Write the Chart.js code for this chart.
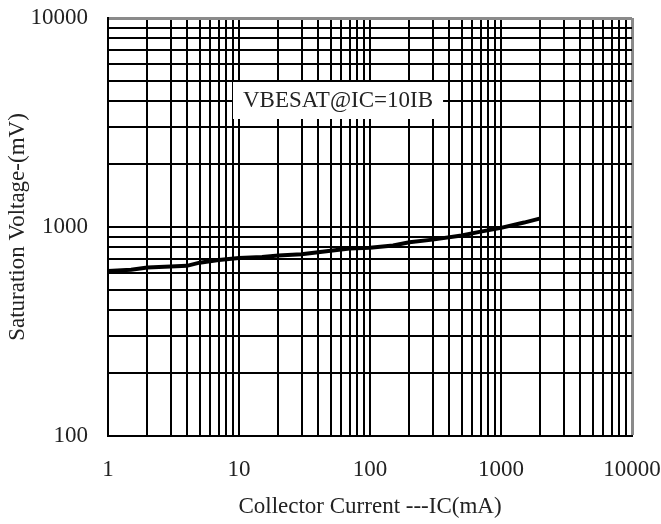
<!DOCTYPE html>
<html>
<head>
<meta charset="utf-8">
<script src="https://cdn.jsdelivr.net/npm/chart.js@4.4.1/dist/chart.umd.min.js"></script>
<style>
  body { margin: 0; background: #fff; }
</style>
</head>
<body>
<canvas id="satChart" width="661" height="524"></canvas>
<script>
// collector current (mA) and VBE(sat) (mV)
const icValues = [1, 1.5, 2, 3, 4, 5, 7, 10, 15, 20, 30, 50, 70, 100, 150, 200, 300, 500, 700, 1000, 1500, 2000];
const vbeValues = [615, 625, 640, 648, 652, 675, 695, 710, 718, 730, 740, 770, 790, 795, 815, 845, 870, 910, 950, 990, 1050, 1100];

const xTickLabels = [1, 10, 100, 1000, 10000];
const yTickLabels = [100, 1000, 10000];
const gridSteps = [1, 2, 3, 4, 5, 6, 7, 8, 9];
const seriesLabel = 'VBESAT@IC=10IB';

const FONT = 'Liberation Serif';

// every 1..9 x decade gets a grid line, only decades get a label
function decadeGrid(labels) {
    const vals = [];
    for (let i = 0; i < labels.length - 1; i++) {
        gridSteps.forEach(s => vals.push(labels[i] * s));
    }
    vals.push(labels[labels.length - 1]);
    return vals;
}

// keep the edge labels from pushing the plot area in
function noEdgePadding(scale) {
    scale.paddingTop = 0;
    scale.paddingBottom = 0;
    scale.paddingLeft = 0;
    scale.paddingRight = 0;
}

const gridColor = (max) => (ctx) => ctx.tick && ctx.tick.value === max ? '#8a8a8a' : '#000';
const gridWidth = (max) => (ctx) => ctx.tick && ctx.tick.value === max ? 3 : 2;

const labelBox = {
    id: 'labelBox',
    afterDatasetsDraw(chart) {
        const { ctx, chartArea } = chart;
        ctx.save();
        ctx.font = '23px "' + FONT + '"';
        const w = ctx.measureText(seriesLabel).width + 20;
        const x = chartArea.left + 125;
        const y = chartArea.top + 64;
        ctx.fillStyle = '#fff';
        ctx.fillRect(x, y, w, 37);
        ctx.fillStyle = '#222';
        ctx.textBaseline = 'middle';
        ctx.fillText(seriesLabel, x + 10, y + 19);
        ctx.restore();
    }
};

const ctx = document.getElementById('satChart').getContext('2d');
new Chart(ctx, {
    type: 'line',
    data: {
        datasets: [{
            label: seriesLabel,
            data: icValues.map((v, i) => ({ x: v, y: vbeValues[i] })),
            borderColor: '#000',
            borderWidth: 4,
            pointRadius: 0,
            tension: 0,
            fill: false
        }]
    },
    options: {
        responsive: false,
        animation: false,
        layout: { padding: { top: 18, right: 29, left: 0, bottom: 0 } },
        plugins: {
            legend: { display: false },
            tooltip: { enabled: false }
        },
        scales: {
            x: {
                type: 'logarithmic',
                min: 1,
                max: 10000,
                afterBuildTicks: (scale) => { scale.ticks = decadeGrid(xTickLabels).map(v => ({ value: v })); },
                afterFit: (scale) => { scale.height = 88; noEdgePadding(scale); },
                grid: { color: gridColor(10000), lineWidth: gridWidth(10000), drawTicks: false },
                border: { color: '#000', width: 2 },
                ticks: {
                    autoSkip: false,
                    maxRotation: 0,
                    padding: 20,
                    color: '#222',
                    font: { family: FONT, size: 23 },
                    callback: (v) => xTickLabels.includes(v) ? String(v) : ''
                },
                title: {
                    display: true,
                    text: 'Collector Current ---IC(mA)',
                    color: '#222',
                    font: { family: FONT, size: 23 },
                    padding: { top: 0, bottom: 3 }
                }
            },
            y: {
                type: 'logarithmic',
                min: 100,
                max: 10000,
                afterBuildTicks: (scale) => { scale.ticks = decadeGrid(yTickLabels).map(v => ({ value: v })); },
                afterFit: (scale) => { scale.width = 108; noEdgePadding(scale); },
                grid: { color: gridColor(10000), lineWidth: gridWidth(10000), drawTicks: false },
                border: { color: '#000', width: 2 },
                ticks: {
                    autoSkip: false,
                    padding: 20,
                    color: '#222',
                    font: { family: FONT, size: 23 },
                    callback: (v) => yTickLabels.includes(v) ? String(v) : ''
                },
                title: {
                    display: true,
                    text: 'Saturation Voltage-(mV)',
                    color: '#222',
                    font: { family: FONT, size: 23 },
                    padding: { top: 4, bottom: 0 }
                }
            }
        }
    },
    plugins: [labelBox]
});
</script>
</body>
</html>
